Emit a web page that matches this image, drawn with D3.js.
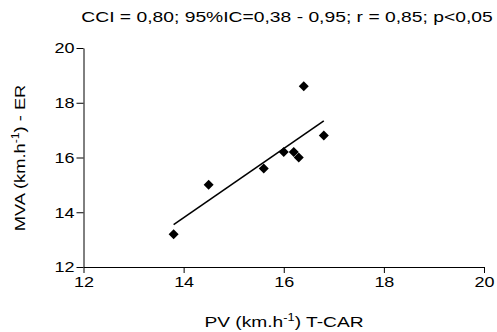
<!DOCTYPE html>
<html>
<head>
<meta charset="utf-8">
<script src="https://cdn.jsdelivr.net/npm/d3@7"></script>
<style>
  body { margin: 0; background: #fff; }
  text { font-family: "Liberation Sans", Arial, sans-serif; fill: #000; }
</style>
</head>
<body>
<svg id="chart" width="497" height="332"></svg>
<script>
// values
const pvTcar = [13.8, 14.5, 15.6, 16.0, 16.2, 16.3, 16.4, 16.8];
const mvaEr  = [13.2, 15.0, 15.6, 16.2, 16.2, 16.0, 18.6, 16.8];
const xTicks = [12, 14, 16, 18, 20];
const yTicks = [12, 14, 16, 18, 20];
const title = "CCI = 0,80; 95%IC=0,38 - 0,95; r = 0,85; p<0,05";

let svg = d3.select("#chart");

let margin = { top: 48, right: 13, bottom: 65, left: 83.5 },
    width = 497 - margin.left - margin.right,
    height = 332 - margin.top - margin.bottom;

// the original's lettering is drawn wide, so text gets a horizontal stretch
const tickStretch = 1.2;

let xscale = d3.scaleLinear().domain([12, 20]).range([0, width]);
let yscale = d3.scaleLinear().domain([12, 20]).range([height, 0]);

let g = svg.append("g").attr("transform", `translate(${margin.left},${margin.top})`);

let xAxis = d3.axisBottom(xscale).tickValues(xTicks).tickSize(6).tickSizeOuter(0).tickPadding(3);
let yAxis = d3.axisLeft(yscale).tickValues(yTicks).tickSize(7).tickSizeOuter(0).tickPadding(2);

let gx = g.append("g").attr("transform", `translate(0,${height})`).call(xAxis);
let gy = g.append("g").call(yAxis);

[gx, gy].forEach(a => {
    a.selectAll("text").style("font-size", "15px").style("font-family", '"Liberation Sans", Arial, sans-serif');
    a.selectAll("path, line").attr("stroke", "#000").attr("stroke-width", 1);
});
gx.selectAll(".tick text").attr("transform", `scale(${tickStretch},1)`);
gy.selectAll(".tick text").each(function () {
    let t = d3.select(this), x = +t.attr("x");
    t.attr("x", 0).attr("transform", `translate(${x},0) scale(${tickStretch},1)`);
});

// regression line from the points
let mx = d3.mean(pvTcar), my = d3.mean(mvaEr);
let sxy = d3.sum(pvTcar, (x, i) => (x - mx) * (mvaEr[i] - my));
let sxx = d3.sum(pvTcar, x => (x - mx) * (x - mx));
let slope = sxy / sxx, icpt = my - slope * mx;
let x0 = d3.min(pvTcar), x1 = d3.max(pvTcar);

g.append("line")
    .attr("x1", xscale(x0)).attr("y1", yscale(icpt + slope * x0))
    .attr("x2", xscale(x1)).attr("y2", yscale(icpt + slope * x1))
    .attr("stroke", "#000").attr("stroke-width", 1.6);

// diamonds
g.selectAll(".pt")
    .data(pvTcar.map((x, i) => [x, mvaEr[i]]))
    .join("path")
    .attr("class", "pt")
    .attr("d", d3.symbol().type(d3.symbolSquare).size(50))
    .attr("transform", d => `translate(${xscale(d[0])},${yscale(d[1])}) rotate(45)`)
    .attr("fill", "#000");

// title
svg.append("text")
    .attr("transform", "translate(287,22) scale(1.33,1)")
    .attr("text-anchor", "middle")
    .style("font-size", "14.5px")
    .text(title);

// x label
let xl = svg.append("text")
    .attr("transform", "translate(284,327) scale(1.28,1)")
    .attr("text-anchor", "middle")
    .style("font-size", "15px");
xl.append("tspan").text("PV (km.h");
xl.append("tspan").attr("dy", -6).style("font-size", "10px").text("-1");
xl.append("tspan").attr("dy", 6).text(") T-CAR");

// y label
let yl = svg.append("text")
    .attr("transform", "translate(25,158) rotate(-90) scale(1.22,1)")
    .attr("text-anchor", "middle")
    .style("font-size", "15px");
yl.append("tspan").text("MVA (km.h");
yl.append("tspan").attr("dy", -6).style("font-size", "10px").text("-1");
yl.append("tspan").attr("dy", 6).text(") - ER");
</script>
</body>
</html>
